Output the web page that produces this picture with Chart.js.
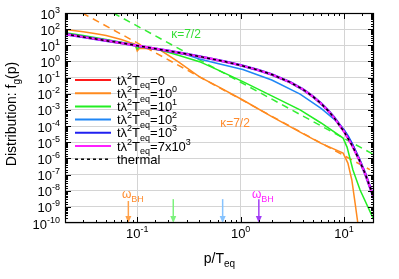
<!DOCTYPE html>
<html>
<head>
<meta charset="utf-8">
<script src="https://cdn.jsdelivr.net/npm/chart.js@4.4.0/dist/chart.umd.min.js"></script>
<style>
  html, body { margin: 0; padding: 0; background: #fff; }
</style>
</head>
<body>
<canvas id="myChart" width="399" height="279"></canvas>
<script>
// values (p/T_eq on x, f_g(p) on y)
const thermalP = [0.02, 0.03, 0.05, 0.07, 0.1, 0.15, 0.2, 0.3, 0.4, 0.5, 0.7, 1, 1.5, 2, 3, 4, 5, 6, 7, 8, 10, 12, 14, 16, 19.5];
const thermalF = [49.5, 32.8, 19.5, 13.8, 9.51, 6.18, 4.52, 2.86, 2.03, 1.54, 0.987, 0.582, 0.287, 0.157, 0.0524, 0.0187, 0.00678, 0.00248, 0.000912, 0.000336, 4.54e-5, 6.14e-6, 8.32e-7, 1.13e-7, 3.4e-9];
const initF = [49.5, 32.8, 19.5, 13.8, 9.51, 6.18, 4.52, 2.86, 2.03, 1.54, 0.987, 0.582, 0.287, 0.157, 0.0524, 0.0187, 0.00678, 0.00248, 0.000912, 0.000336, 4.54e-5, 6.14e-6, 8.32e-7, 1.13e-7, 3.4e-9];
const blueF = [49.5, 32.8, 19.5, 13.8, 9.51, 6.18, 4.52, 2.86, 2.03, 1.54, 0.987, 0.582, 0.287, 0.157, 0.0524, 0.0187, 0.00678, 0.00248, 0.00093, 0.00035, 5.0e-5, 6.8e-6, 8.8e-7, 1.15e-7, 3.4e-9];
const magentaF = [49.5, 32.8, 19.5, 13.8, 9.51, 6.18, 4.52, 2.86, 2.03, 1.54, 0.987, 0.582, 0.287, 0.157, 0.0524, 0.0187, 0.00678, 0.00248, 0.000912, 0.000336, 4.54e-5, 6.14e-6, 8.32e-7, 1.13e-7, 3.4e-9];

const orangeP = [0.02, 0.03, 0.04, 0.05, 0.07, 0.085, 0.095, 0.1, 0.105, 0.12, 0.167, 0.25, 0.4, 0.6, 1.05, 2, 3.76, 6, 9.8, 10.9, 11.9, 12.8, 13.6];
const orangeF = [95, 68, 52, 40, 23, 15, 12, 4.5, 6.5, 6.3, 5.1, 0.93, 0.11, 0.0285, 4.1e-3, 3.8e-4, 4.2e-5, 8.5e-6, 2.1e-6, 5.1e-7, 4.6e-8, 1.7e-9, 1e-10];

const greenP = [0.02, 0.03, 0.05, 0.07, 0.095, 0.1, 0.105, 0.12, 0.167, 0.25, 0.4, 0.6, 1.05, 2, 3.76, 6, 9.8, 10.7, 12.2, 14.3, 19.5];
const greenF = [60, 40, 23, 15.5, 11, 6, 8.5, 7.6, 5.1, 2.4, 0.97, 0.30, 0.056, 7.4e-3, 1e-3, 1.55e-4, 1.8e-5, 5e-6, 1.9e-7, 1.1e-8, 1.5e-10];

const dodgerP = [0.02, 0.05, 0.1, 0.2, 0.3, 0.4, 0.6, 1.05, 2, 3.76, 6, 8, 10, 11, 12, 14, 16, 19.5];
const dodgerF = [49.5, 19.5, 9.5, 4.4, 2.6, 1.4, 0.75, 0.32, 0.071, 0.0095, 0.00124, 0.00027, 5.9e-5, 2.5e-5, 8.6e-6, 1e-6, 1.24e-7, 3.4e-9];

// kappa = 7/2 power laws
const kapOrangeP = [0.0294, 17.8];
const kapOrangeF = [1000, 2e-7];
const kapGreenP = [0.0586, 19.5];
const kapGreenF = [1000, 1.7e-6];

// omega_BH arrows
const arrowP = [0.082, 0.223, 0.67, 1.5];
const arrowTop = [2.3e-9, 3e-9, 3e-9, 3e-9];
const arrowColor = ["#ffa14a", "#7cf27c", "#86c3ff", "#a23cf5"];

const FONT = '"Liberation Sans", Arial, sans-serif';
const pts = (xs, ys) => xs.map((v, i) => ({ x: v, y: ys[i] }));
const isPow10 = v => v > 0 && Math.abs(Math.log10(v) - Math.round(Math.log10(v))) < 1e-6;

function rich(ctx, parts, x, y, size, color, align) {
    const fs = k => (k === "n" ? size : Math.round(size * 0.72));
    const dy = k => (k === "u" ? -size * 0.46 : k === "d" ? size * 0.3 : 0);
    let w = 0;
    parts.forEach(([t, k]) => {
        ctx.font = fs(k) + "px " + FONT;
        w += ctx.measureText(t).width;
    });
    let cx = align === "right" ? x - w : align === "center" ? x - w / 2 : x;
    ctx.fillStyle = color;
    ctx.textAlign = "left";
    ctx.textBaseline = "alphabetic";
    parts.forEach(([t, k]) => {
        ctx.font = fs(k) + "px " + FONT;
        ctx.fillText(t, cx, y + dy(k));
        cx += ctx.measureText(t).width;
    });
}

const legendItems = [
    { color: "#ff1a1a", dash: [], parts: [["=0", "n"]] },
    { color: "#ff8a1e", dash: [], parts: [["=10", "n"], ["0", "u"]] },
    { color: "#22ee22", dash: [], parts: [["=10", "n"], ["1", "u"]] },
    { color: "#1f86f5", dash: [], parts: [["=10", "n"], ["2", "u"]] },
    { color: "#2020f0", dash: [], parts: [["=10", "n"], ["3", "u"]] },
    { color: "#ff20ff", dash: [], parts: [["=7x10", "n"], ["3", "u"]] },
];

const deco = {
    id: "deco",
    afterDatasetsDraw(chart) {
        const { ctx, chartArea: a, scales: { x, y } } = chart;
        ctx.save();
        // arrows
        arrowP.forEach((p, i) => {
            const px = x.getPixelForValue(p);
            const top = y.getPixelForValue(arrowTop[i]);
            const bot = a.bottom;
            ctx.strokeStyle = arrowColor[i];
            ctx.fillStyle = arrowColor[i];
            ctx.lineWidth = 1.5;
            ctx.beginPath();
            ctx.moveTo(px, top);
            ctx.lineTo(px, bot - 2);
            ctx.stroke();
            ctx.beginPath();
            ctx.moveTo(px - 3, bot - 7);
            ctx.lineTo(px + 3, bot - 7);
            ctx.lineTo(px, bot);
            ctx.closePath();
            ctx.fill();
        });
        // ticks inside the frame
        ctx.strokeStyle = "#000";
        ctx.lineWidth = 1;
        ctx.beginPath();
        x.ticks.forEach(t => {
            if (t.value <= x.min || t.value >= x.max) return;
            const px = Math.round(x.getPixelForValue(t.value)) + 0.5;
            const len = isPow10(t.value) ? 6 : 3;
            ctx.moveTo(px, a.bottom); ctx.lineTo(px, a.bottom - len);
            ctx.moveTo(px, a.top); ctx.lineTo(px, a.top + len);
        });
        y.ticks.forEach(t => {
            if (t.value <= y.min || t.value >= y.max) return;
            const py = Math.round(y.getPixelForValue(t.value)) + 0.5;
            const len = isPow10(t.value) ? 6 : 3;
            ctx.moveTo(a.left, py); ctx.lineTo(a.left + len, py);
            ctx.moveTo(a.right, py); ctx.lineTo(a.right - len, py);
        });
        ctx.stroke();
        ctx.lineWidth = 1.2;
        ctx.strokeRect(a.left + 0.5, a.top + 0.5, a.right - a.left - 1, a.bottom - a.top - 1);
        ctx.restore();
    },
    afterDraw(chart) {
        const { ctx, chartArea: a, scales: { x, y } } = chart;
        ctx.save();
        // tick labels
        y.ticks.forEach(t => {
            if (!isPow10(t.value)) return;
            const e = Math.round(Math.log10(t.value));
            rich(ctx, [["10", "n"], [String(e), "u"]], 60, y.getPixelForValue(t.value) + 5.5, 13, "#000", "right");
        });
        x.ticks.forEach(t => {
            if (!isPow10(t.value)) return;
            const e = Math.round(Math.log10(t.value));
            rich(ctx, [["10", "n"], [String(e), "u"]], x.getPixelForValue(t.value), 238, 13, "#000", "center");
        });
        // axis titles
        rich(ctx, [["p/T", "n"], ["eq", "d"]], (a.left + a.right) / 2, 263, 14, "#000", "center");
        ctx.save();
        ctx.translate(16, 114);
        ctx.rotate(-Math.PI / 2);
        rich(ctx, [["Distribution: f", "n"], ["g", "d"], ["(p)", "n"]], 0, 0, 14, "#000", "center");
        ctx.restore();
        // legend
        legendItems.forEach((it, i) => {
            const ly = 80 + i * 13.2;
            ctx.strokeStyle = it.color;
            ctx.lineWidth = 2;
            ctx.setLineDash(it.dash);
            ctx.beginPath(); ctx.moveTo(75, ly); ctx.lineTo(111, ly); ctx.stroke();
            rich(ctx, [["tλ", "n"], ["2", "u"], ["T", "n"], ["eq", "d"]].concat(it.parts), 117, ly + 4.5, 13, "#000", "left");
        });
        const ty = 80 + 6 * 13.2;
        ctx.strokeStyle = "#000";
        ctx.lineWidth = 1.5;
        ctx.setLineDash([3, 3]);
        ctx.beginPath(); ctx.moveTo(75, ty); ctx.lineTo(111, ty); ctx.stroke();
        ctx.setLineDash([]);
        rich(ctx, [["thermal", "n"]], 117, ty + 4.5, 13, "#000", "left");
        // kappa labels
        rich(ctx, [["κ=7/2", "n"]], 186, 37.5, 12, "#33dd33", "center");
        rich(ctx, [["κ=7/2", "n"]], 235, 126.5, 12, "#ff8c2e", "center");
        // omega_BH labels
        rich(ctx, [["ω", "n"], ["BH", "d"]], 122, 198, 12, "#ff8c2e", "left");
        rich(ctx, [["ω", "n"], ["BH", "d"]], 252, 198, 12, "#ff22ff", "left");
        ctx.restore();
    }
};

const ctx = document.getElementById("myChart");

new Chart(ctx, {
    type: "line",
    data: {
        datasets: [
            { data: pts(thermalP, thermalF), borderColor: "#000", borderWidth: 1.5, borderDash: [3, 3], order: 0 },
            { data: pts(thermalP, magentaF), borderColor: "#ff20ff", borderWidth: 2.2, order: 1 },
            { data: pts(thermalP, blueF), borderColor: "#2020f0", borderWidth: 2.6, order: 2 },
            { data: pts(dodgerP, dodgerF), borderColor: "#1f86f5", borderWidth: 1.5, order: 3 },
            { data: pts(greenP, greenF), borderColor: "#22ee22", borderWidth: 1.5, order: 4 },
            { data: pts(orangeP, orangeF), borderColor: "#ff8a1e", borderWidth: 1.5, order: 5 },
            { data: pts(thermalP, initF), borderColor: "#ff1a1a", borderWidth: 1.5, order: 6 },
            { data: pts(kapGreenP, kapGreenF), borderColor: "#33ee33", borderWidth: 1.5, borderDash: [7, 5], order: 7 },
            { data: pts(kapOrangeP, kapOrangeF), borderColor: "#ff8a1e", borderWidth: 1.5, borderDash: [7, 5], order: 8 },
        ],
    },
    options: {
        responsive: false,
        animation: false,
        events: [],
        layout: { padding: { left: 0, right: 25, top: 13, bottom: 0 } },
        elements: { point: { radius: 0 }, line: { tension: 0, fill: false } },
        plugins: { legend: { display: false }, tooltip: { enabled: false } },
        scales: {
            x: {
                type: "logarithmic",
                min: 0.02,
                max: 19.5,
                afterFit: s => { s.height = 56; },
                ticks: { display: false, autoSkip: false },
                border: { display: false },
                grid: {
                    drawTicks: false,
                    lineWidth: 1,
                    color: c => (c.tick && isPow10(c.tick.value) ? "#d4d4d4" : "rgba(0,0,0,0)"),
                },
            },
            y: {
                type: "logarithmic",
                min: 1e-10,
                max: 1e3,
                afterFit: s => { s.width = 65; },
                ticks: { display: false, autoSkip: false },
                border: { display: false },
                grid: {
                    drawTicks: false,
                    lineWidth: 1,
                    color: c => (c.tick && isPow10(c.tick.value) ? "#d4d4d4" : "rgba(0,0,0,0)"),
                },
            },
        },
    },
    plugins: [deco],
});
</script>
</body>
</html>
